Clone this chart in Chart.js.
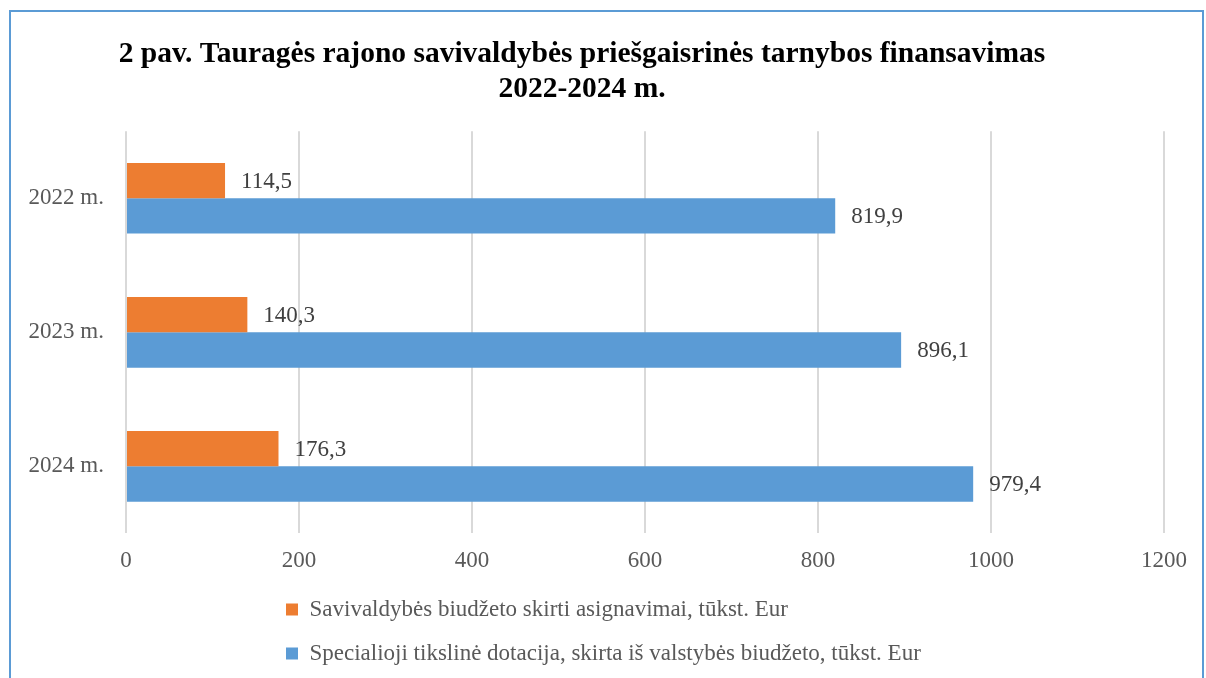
<!DOCTYPE html>
<html>
<head>
<meta charset="utf-8">
<script src="https://cdn.jsdelivr.net/npm/chart.js@4/dist/chart.umd.min.js"></script>
<style>
  body { margin: 0; background: #fff; }
  #wrap { position: relative; width: 1206px; height: 678px; overflow: hidden; }
  #ramka { position: absolute; left: 9px; top: 10px; width: 1195px; height: 700px; box-sizing: border-box; border: 2px solid #5b9bd5; pointer-events: none; }
</style>
</head>
<body>
<div id="wrap">
  <canvas id="graphique"></canvas>
  <div id="ramka"></div>
</div>
<script>
const metai = ["2022 m.", "2023 m.", "2024 m."];
const savivaldybe = [114.5, 140.3, 176.3];
const dotacija = [819.9, 896.1, 979.4];
const pavadinimas = ["2 pav. Tauragės rajono savivaldybės priešgaisrinės tarnybos finansavimas", "2022-2024 m."];
const serija1 = "Savivaldybės biudžeto skirti asignavimai, tūkst. Eur";
const serija2 = "Specialioji tikslinė dotacija, skirta iš valstybės biudžeto, tūkst. Eur";

const serif = "'Liberation Serif', 'Times New Roman', serif";

// reikšmės prie stulpelių, su kableliu
const reiksmes = {
  id: "reiksmes",
  afterDatasetsDraw(chart) {
    const ctx = chart.ctx;
    ctx.save();
    ctx.font = "23px " + serif;
    ctx.fillStyle = "#404040";
    ctx.textAlign = "left";
    ctx.textBaseline = "middle";
    chart.data.datasets.forEach((ds, i) => {
      chart.getDatasetMeta(i).data.forEach((bar, j) => {
        ctx.fillText(ds.data[j].toFixed(1).replace(".", ","), bar.x + 16, bar.y + 1);
      });
    });
    ctx.restore();
  }
};

// legenda kairėje, kaip Excel
const legendaVieta = {
  id: "legendaVieta",
  afterLayout(chart) {
    chart.legend.left = 265;
    chart.legend.top = 577;
  }
};

const ctx = document.getElementById("graphique").getContext("2d");
new Chart(ctx, {
  type: "bar",
  data: {
    labels: metai,
    datasets: [{
      label: serija1,
      data: savivaldybe,
      backgroundColor: "#ed7d31",
      categoryPercentage: 0.527,
      barPercentage: 1
    }, {
      label: serija2,
      data: dotacija,
      backgroundColor: "#5b9bd5",
      categoryPercentage: 0.527,
      barPercentage: 1
    }]
  },
  plugins: [reiksmes, legendaVieta],
  options: {
    indexAxis: "y",
    responsive: true,
    maintainAspectRatio: false,
    animation: false,
    layout: { padding: { left: 0, right: 42, top: 0, bottom: -9 } },
    plugins: {
      title: {
        display: true,
        text: pavadinimas,
        color: "#000",
        font: { family: serif, size: 29.5, weight: "bold", lineHeight: 1.19 },
        padding: { top: 37, bottom: 24 }
      },
      legend: {
        position: "bottom",
        align: "start",
        labels: {
          color: "#595959",
          font: { family: serif, size: 23 },
          boxWidth: 12,
          boxHeight: 12,
          padding: 21
        }
      },
      tooltip: { enabled: false }
    },
    scales: {
      x: {
        min: 0,
        max: 1200,
        ticks: {
          stepSize: 200,
          color: "#595959",
          font: { family: serif, size: 23 },
          padding: 14,
          callback: (v) => String(v)
        },
        grid: { color: "#d9d9d9", lineWidth: 2, drawTicks: false },
        border: { display: false }
      },
      y: {
        ticks: { color: "#595959", font: { family: serif, size: 23 }, padding: 22 },
        grid: { display: false, drawTicks: false },
        border: { display: false },
        afterFit(scale) { scale.width = 126; }
      }
    }
  }
});
</script>
</body>
</html>
